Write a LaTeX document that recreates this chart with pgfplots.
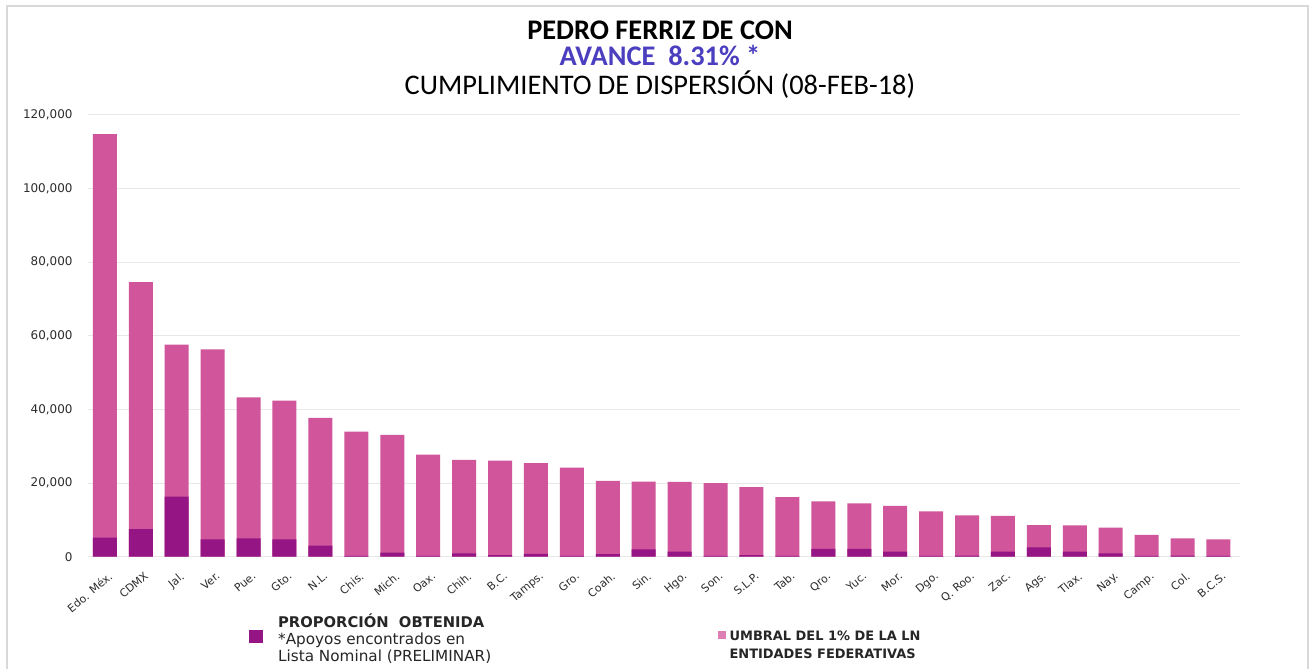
\documentclass[border=0pt]{standalone}
\usepackage{pgfplots}
\pgfplotsset{compat=1.18}
\usepackage{pgfplotstable}
\usepackage{fontspec}
\setmainfont{Carlito}
\newfontfamily\dvs{DejaVu Sans}
\definecolor{pinkbar}{HTML}{D0559B}
\definecolor{darkbar}{HTML}{951585}
\definecolor{titleblue}{HTML}{4B3FC0}
\definecolor{gridc}{HTML}{E8E8E8}
\definecolor{tickc}{HTML}{2C2C2C}

\pgfplotstableread{
idx total obt
0 114800 5200
1 74600 7500
2 57600 16300
3 56300 4700
4 43300 5000
5 42400 4700
6 37700 3000
7 34000 200
8 33100 1100
9 27700 200
10 26300 900
11 26100 400
12 25400 800
13 24200 200
14 20600 700
15 20400 2000
16 20300 1400
17 20000 200
18 18900 400
19 16200 200
20 15000 2100
21 14500 2100
22 13800 1400
23 12300 200
24 11200 300
25 11100 1400
26 8600 2500
27 8500 1400
28 7900 900
29 5900 200
30 5000 300
31 4700 200
}\datatable

\begin{document}
\begin{tikzpicture}
\useasboundingbox (0,0) rectangle (1312bp,669bp);
\fill[white] (0,0) rectangle (1312bp,669bp);
\draw[black!15, line width=1.5bp] (7bp,-10bp) -- (7bp,663bp) -- (1308bp,663bp) -- (1308bp,-10bp);
\node[font=\fontsize{28.5}{32}\selectfont\bfseries, anchor=base] at (660bp,629bp) {PEDRO FERRIZ DE CON};
\node[font=\fontsize{28.5}{32}\selectfont\bfseries, text=titleblue, anchor=base] at (660bp,603bp) {AVANCE\ \ 8.31\% *};
\node[font=\fontsize{28.5}{32}\selectfont, anchor=base] at (660bp,574bp) {CUMPLIMIENTO DE DISPERSIÓN (08-FEB-18)};

\begin{axis}[
  at={(88bp,112.3bp)}, anchor=south west,
  scale only axis, width=1152bp, height=441.7bp,
  xmin=-0.47, xmax=31.6, ymin=0, ymax=120000,
  axis line style={draw=none}, major tick length=0pt,
  ytick={0,20000,40000,60000,80000,100000,120000},
  ymajorgrids, grid style={gridc, line width=1bp},
  scaled y ticks=false,
  /pgf/number format/fixed,
  /pgf/number format/precision=0,
  /pgf/number format/1000 sep={,},
  /pgf/number format/assume math mode=true,
  yticklabel style={font=\dvs\fontsize{12}{14}\selectfont, text=tickc, xshift=-12bp},
  xtick={0,...,31},
  xticklabels={Edo. Méx.,CDMX,Jal.,Ver.,Pue.,Gto.,N.L.,Chis.,Mich.,Oax.,Chih.,B.C.,Tamps.,Gro.,Coah.,Sin.,Hgo.,Son.,S.L.P.,Tab.,Qro.,Yuc.,Mor.,Dgo.,Q. Roo.,Zac.,Ags.,Tlax.,Nay.,Camp.,Col.,B.C.S.},
  xticklabel style={font=\dvs\fontsize{11}{13}\selectfont, text=tickc, inner sep=1bp, xshift=3bp, yshift=-13bp, rotate=40, anchor=north east},
  legend style={at={(axis description cs:0.1398,-0.1235)}, anchor=north west, draw=none, fill=none, inner sep=0pt, column sep=14bp,
    cells={anchor=west, inner sep=0pt}, font=\dvs\fontsize{15.3}{17.5}\selectfont, text=black!85},
]
\addplot[ybar, bar width=24bp, bar shift=0pt, fill=pinkbar, draw=none, forget plot] table[x=idx, y=total]{\datatable};
\addplot[ybar, bar width=24bp, bar shift=0pt, fill=darkbar, draw=none, forget plot] table[x=idx, y=obt]{\datatable};
\addlegendimage{legend image code/.code={\fill[darkbar] (0bp,-13bp) rectangle (12.5bp,-1bp);}}
\addlegendentry{\begin{tabular}{@{}l@{}}{\fontsize{14.8}{17.5}\selectfont\bfseries PROPORCIÓN\ \ OBTENIDA}\\{*}Apoyos encontrados en\\Lista Nominal (PRELIMINAR)\end{tabular}}
\end{axis}

\begin{axis}[
  at={(88bp,112.3bp)}, anchor=south west,
  scale only axis, width=1152bp, height=441.7bp,
  xmin=0, xmax=1, ymin=0, ymax=1, hide axis,
  legend style={at={(axis description cs:0.5469,-0.1565)}, anchor=north west, draw=none, fill=none, inner sep=0pt, column sep=2bp,
    cells={anchor=west, inner sep=0pt}, font=\dvs\bfseries\fontsize{13}{18}\selectfont, text=black!85},
]
\addlegendimage{legend image code/.code={\fill[pinkbar!75] (0bp,1.5bp) rectangle (7bp,8.5bp);}}
\addlegendentry{\begin{tabular}{@{}l@{}}UMBRAL DEL 1\% DE LA LN\\ENTIDADES FEDERATIVAS\end{tabular}}
\end{axis}
\end{tikzpicture}
\end{document}
